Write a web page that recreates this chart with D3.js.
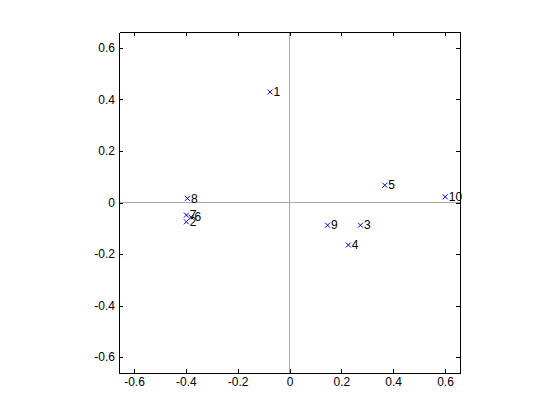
<!DOCTYPE html>
<html>
<head>
<meta charset="utf-8">
<title>Scatter</title>
<style>
  body { margin: 0; background: #fff; }
  text { font-family: "Liberation Sans", Arial, sans-serif; }
</style>
</head>
<body>
<script src="https://cdnjs.cloudflare.com/ajax/libs/d3/7.8.5/d3.min.js"></script>
<script>
// point labels and their coordinates
var labels = ['1', '2', '3', '4', '5', '6', '7', '8', '9', '10'];
var xs = [-0.075, -0.398, 0.274, 0.227, 0.368, -0.380, -0.398, -0.394, 0.147, 0.601];
var ys = [0.429, -0.075, -0.088, -0.165, 0.067, -0.057, -0.049, 0.016, -0.088, 0.022];
var ticks = [-0.6, -0.4, -0.2, 0, 0.2, 0.4, 0.6];

var W = 560, H = 420;
var pLeft = 119, pRight = 460, pTop = 32, pBottom = 373;

var svg = d3.select('body').append('svg')
  .attr('width', W)
  .attr('height', H);

var x = d3.scaleLinear().domain([-0.658, 0.658]).range([pLeft, pRight]);
var y = d3.scaleLinear().domain([-0.662, 0.662]).range([pBottom, pTop]);

// plain hyphen for negatives, like the original
var fmt = function(d){ return d === 0 ? '0' : d.toFixed(1); };

// zero lines
svg.append('line')
  .attr('x1', x(0)).attr('x2', x(0)).attr('y1', pTop).attr('y2', pBottom)
  .attr('stroke', '#a8a8a8').attr('stroke-width', 1).attr('shape-rendering', 'crispEdges');
svg.append('line')
  .attr('x1', pLeft).attr('x2', pRight).attr('y1', y(0)).attr('y2', y(0))
  .attr('stroke', '#a8a8a8').attr('stroke-width', 1).attr('shape-rendering', 'crispEdges');

// axes (ticks inside on all four sides)
function styleAxis(g){
  g.selectAll('path').attr('stroke', '#000').attr('shape-rendering', 'crispEdges');
  g.selectAll('line').attr('stroke', '#000').attr('shape-rendering', 'crispEdges');
  g.selectAll('text').attr('fill', '#000').style('font-size', '12px');
}

svg.append('g').attr('transform', 'translate(0,' + pBottom + ')')
  .call(d3.axisBottom(x).tickValues(ticks).tickFormat(fmt).tickSizeInner(-4).tickSizeOuter(0).tickPadding(4))
  .call(styleAxis);
svg.append('g').attr('transform', 'translate(' + pLeft + ',0)')
  .call(d3.axisLeft(y).tickValues(ticks).tickFormat(fmt).tickSizeInner(-4).tickSizeOuter(0).tickPadding(4))
  .call(styleAxis);
svg.append('g').attr('transform', 'translate(0,' + pTop + ')')
  .call(d3.axisTop(x).tickValues(ticks).tickFormat('').tickSizeInner(-4).tickSizeOuter(0))
  .call(styleAxis);
svg.append('g').attr('transform', 'translate(' + pRight + ',0)')
  .call(d3.axisRight(y).tickValues(ticks).tickFormat('').tickSizeInner(-4).tickSizeOuter(0))
  .call(styleAxis);

// points
var data = labels.map(function(l, i){ return { label: l, x: xs[i], y: ys[i] }; });

var pts = svg.selectAll('g.pt').data(data).enter().append('g')
  .attr('class', 'pt')
  .attr('transform', function(d){ return 'translate(' + x(d.x) + ',' + y(d.y) + ')'; });

pts.append('path')
  .attr('d', 'M-2.5,-2.5L2.5,2.5M-2.5,2.5L2.5,-2.5')
  .attr('stroke', '#0000ff')
  .attr('stroke-width', 1)
  .attr('fill', 'none');

pts.append('text')
  .attr('x', 3.5)
  .attr('dy', '0.35em')
  .style('font-size', '12px')
  .attr('fill', '#000')
  .text(function(d){ return d.label; });
</script>
</body>
</html>
